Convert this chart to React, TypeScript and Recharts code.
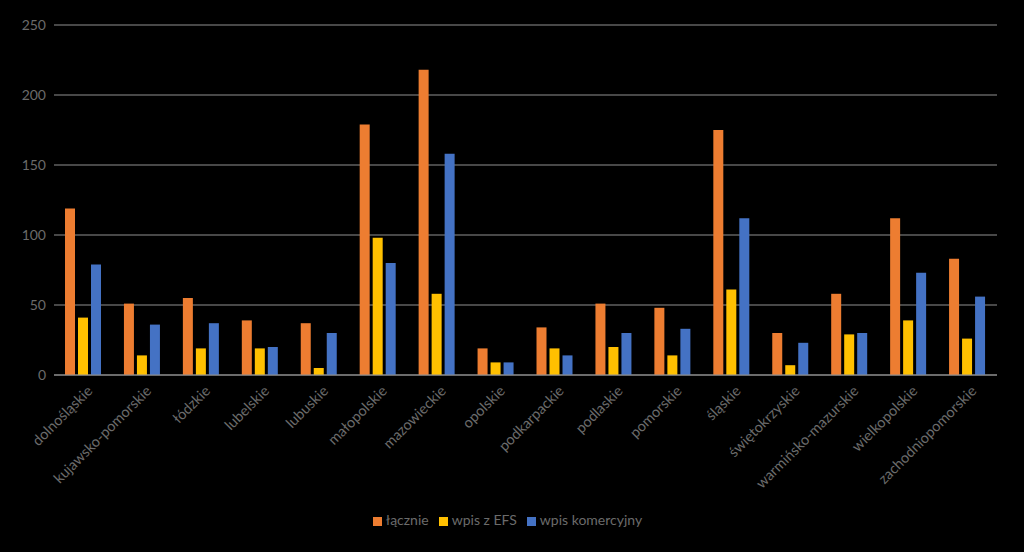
import { BarChart, Bar, XAxis, YAxis, CartesianGrid, Legend } from "recharts";

const regions = [
  "dolnośląskie",
  "kujawsko-pomorskie",
  "łódzkie",
  "lubelskie",
  "lubuskie",
  "małopolskie",
  "mazowieckie",
  "opolskie",
  "podkarpackie",
  "podlaskie",
  "pomorskie",
  "śląskie",
  "świętokrzyskie",
  "warmińsko-mazurskie",
  "wielkopolskie",
  "zachodniopomorskie",
];

const lacznie = [119, 51, 55, 39, 37, 179, 218, 19, 34, 51, 48, 175, 30, 58, 112, 83];
const wpisEfs = [41, 14, 19, 19, 5, 98, 58, 9, 19, 20, 14, 61, 7, 29, 39, 26];
const wpisKomercyjny = [79, 36, 37, 20, 30, 80, 158, 9, 14, 30, 33, 112, 23, 30, 73, 56];

const yTicks = [0, 50, 100, 150, 200, 250];
const seriesOrder = ["łącznie", "wpis z EFS", "wpis komercyjny"];

const data = regions.map((name, i) => ({
  name,
  lacznie: lacznie[i],
  efs: wpisEfs[i],
  kom: wpisKomercyjny[i],
}));

const FONT = "Lato, 'Open Sans', sans-serif";
const TEXT = "#6b6b6b";
const GRID = "#909090";

const RotatedTick = (props: any) => {
  const { x, y, payload } = props;
  return (
    <g transform={`translate(${x + 7},${y + 6})`}>
      <text
        transform="rotate(-45)"
        textAnchor="end"
        fill={TEXT}
        fontSize={14.5}
        fontFamily={FONT}
        dy={4}
      >
        {payload.value}
      </text>
    </g>
  );
};

export default function App() {
  return (
    <div style={{ position: "absolute", left: 0, top: 0, width: 1024, height: 552, background: "#000" }}>
      <BarChart
        width={1024}
        height={552}
        data={data}
        margin={{ top: 25, right: 27, left: 0, bottom: 0 }}
        barGap={3}
        barSize={10}
      >
        <CartesianGrid vertical={false} stroke={GRID} strokeWidth={1} />
        <XAxis
          dataKey="name"
          interval={0}
          height={136}
          tickLine={false}
          axisLine={{ stroke: GRID }}
          tick={<RotatedTick />}
        />
        <YAxis
          width={54}
          domain={[0, 250]}
          ticks={yTicks}
          axisLine={false}
          tickLine={false}
          tick={{ fill: TEXT, fontSize: 14, fontFamily: FONT }}
        />
        <Legend
          verticalAlign="bottom"
          iconType="square"
          iconSize={9}
          itemSorter={(item: any) => seriesOrder.indexOf(item.value)}
          wrapperStyle={{ fontFamily: FONT, fontSize: 14, color: TEXT, paddingBottom: 24, paddingLeft: 14 }}
          formatter={(value) => <span style={{ color: TEXT }}>{value}</span>}
        />
        <Bar dataKey="lacznie" name="łącznie" fill="#ED7D31" isAnimationActive={false} />
        <Bar dataKey="efs" name="wpis z EFS" fill="#FFC000" isAnimationActive={false} />
        <Bar dataKey="kom" name="wpis komercyjny" fill="#4472C4" isAnimationActive={false} />
      </BarChart>
    </div>
  );
}
